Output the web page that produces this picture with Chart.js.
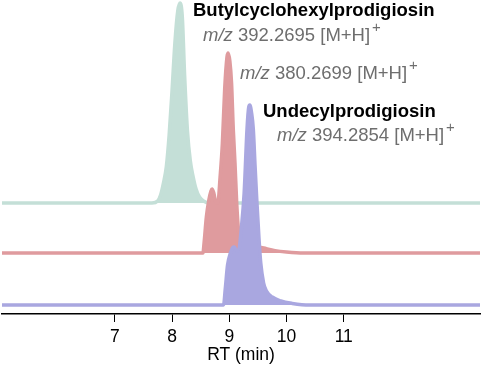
<!DOCTYPE html>
<html>
<head>
<meta charset="utf-8">
<script src="https://cdn.jsdelivr.net/npm/chart.js@4.4.1/dist/chart.umd.min.js"></script>
<style>
  body { margin: 0; background: #fff; }
</style>
</head>
<body>
<canvas id="rt" width="484" height="366"></canvas>
<script>
// retention times (min) and normalised intensities
var greenT = [5.0, 7.65, 7.75, 7.80, 7.85, 7.90, 7.95, 8.00, 8.05, 8.10, 8.14, 8.18, 8.22, 8.27, 8.32, 8.37, 8.42, 8.48, 8.55, 8.65, 13.4];
var greenI = [0, 0, 0.01, 0.04, 0.10, 0.18, 0.34, 0.56, 0.80, 0.96, 1.00, 0.93, 0.64, 0.36, 0.21, 0.13, 0.07, 0.03, 0.01, 0, 0];

var redT = [5.0, 8.54, 8.56, 8.60, 8.64, 8.68, 8.70, 8.73, 8.77, 8.80, 8.84, 8.88, 8.92, 8.96, 8.98, 9.01, 9.04, 9.07, 9.10, 9.13, 9.16, 9.20, 9.30, 9.45, 9.60, 9.80, 10.0, 10.3, 13.4];
var redI = [0, 0, 0.05, 0.18, 0.26, 0.31, 0.32, 0.30, 0.25, 0.25, 0.38, 0.55, 0.82, 0.98, 1.00, 0.96, 0.85, 0.62, 0.45, 0.25, 0.12, 0.07, 0.05, 0.035, 0.025, 0.012, 0.005, 0, 0];

var blueT = [5.0, 8.90, 8.93, 8.97, 9.02, 9.07, 9.09, 9.13, 9.17, 9.21, 9.26, 9.31, 9.34, 9.36, 9.39, 9.42, 9.45, 9.48, 9.52, 9.55, 9.60, 9.65, 9.75, 9.90, 10.1, 10.4, 13.4];
var blueI = [0, 0, 0.08, 0.20, 0.26, 0.29, 0.29, 0.27, 0.28, 0.38, 0.56, 0.88, 0.99, 1.00, 0.96, 0.88, 0.70, 0.53, 0.33, 0.21, 0.11, 0.07, 0.04, 0.02, 0.008, 0, 0];

var xTicks = [7, 8, 9, 10, 11];

// stacking offsets and peak height (y units)
var offsets = { green: 111, red: 61, blue: 9 };
var peakH = 200;

var fam = '"Liberation Sans", Arial, sans-serif';

function pts(t, v, off) {
  return t.map(function (x, i) { return { x: x, y: off + v[i] * peakH }; });
}

function trace(t, v, off, col, ord) {
  return {
    data: pts(t, v, off),
    borderColor: col,
    backgroundColor: col,
    borderWidth: 3.5,
    pointRadius: 0,
    cubicInterpolationMode: 'monotone',
    fill: { value: off },
    order: ord
  };
}

var labels = {
  id: 'labels',
  afterDraw: function (chart) {
    var ctx = chart.ctx;
    ctx.save();
    ctx.textBaseline = 'middle';
    ctx.textAlign = 'left';

    function bold(txt, x, y) {
      ctx.font = 'bold 18.5px ' + fam;
      ctx.fillStyle = '#000';
      ctx.fillText(txt, x, y);
    }
    function mz(num, x, y) {
      ctx.fillStyle = '#6e6e6e';
      ctx.font = 'italic 18.5px ' + fam;
      ctx.fillText('m/z', x, y);
      x += ctx.measureText('m/z').width;
      ctx.font = '18.5px ' + fam;
      var s = ' ' + num + ' [M+H]';
      ctx.fillText(s, x, y);
      x += ctx.measureText(s).width;
      ctx.font = '15px ' + fam;
      ctx.fillText('+', x + 2, y - 8);
    }

    bold('Butylcyclohexylprodigiosin', 193, 11);
    mz('392.2695', 203, 36);
    mz('380.2699', 240, 74);
    bold('Undecylprodigiosin', 263, 112);
    mz('394.2854', 277, 136);
    ctx.restore();
  }
};

new Chart(document.getElementById('rt'), {
  type: 'line',
  data: {
    datasets: [
      trace(greenT, greenI, offsets.green, '#c4dfd7', 3),
      trace(redT, redI, offsets.red, '#df9b9e', 2),
      trace(blueT, blueI, offsets.blue, '#a9a7e0', 1)
    ]
  },
  options: {
    responsive: false,
    animation: false,
    layout: { padding: { left: 2, right: 4, top: 0, bottom: 0 } },
    plugins: { legend: { display: false }, tooltip: { enabled: false } },
    scales: {
      x: {
        type: 'linear',
        min: 5.03,
        max: 13.38,
        afterBuildTicks: function (axis) {
          axis.ticks = xTicks.map(function (v) { return { value: v }; });
        },
        afterFit: function (axis) {
          axis.height = 52;
        },
        ticks: {
          color: '#000',
          font: { size: 17.5, family: fam, lineHeight: 1 },
          padding: 6,
          maxRotation: 0
        },
        grid: { drawOnChartArea: false, drawTicks: true, tickLength: 8, color: '#000', lineWidth: 1 },
        border: { color: '#000', width: 1.5 },
        title: {
          display: true,
          text: 'RT (min)',
          color: '#000',
          font: { size: 17.5, family: fam, lineHeight: 1 },
          padding: { top: 0, bottom: 2 }
        }
      },
      y: {
        display: false,
        min: 0,
        max: 314
      }
    }
  },
  plugins: [labels]
});
</script>
</body>
</html>
